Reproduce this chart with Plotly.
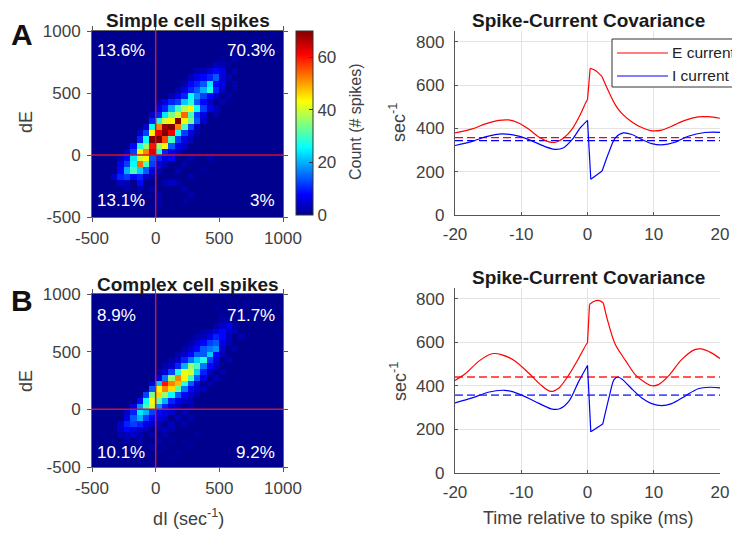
import plotly.graph_objects as go

W, H = 740, 534
OFF = 8  # page body margin of the browser
def px(x): return (x - OFF) / W
def py(y): return 1 - (y - OFF) / H

FONT = "Liberation Sans, Arial, sans-serif"
TXT = "#404040"

# ---------------- data ----------------
DI_CENTERS = [-475 + 50 * i for i in range(30)]          # bin centres (dI)
DE_CENTERS = [975 - 50 * i for i in range(30)]           # bin centres (dE), top row first

HEAT_TICKS = [-500, 0, 500, 1000]
HEAT_TICK_LABELS = ["-500", "0", "500", "1000"]
TIME_TICKS = [-20, -10, 0, 10, 20]
TIME_TICK_LABELS = ["-20", "-10", "0", "10", "20"]
COV_TICKS = [0, 200, 400, 600, 800]
CBAR_TICKS = [0, 20, 40, 60]

COUNTS_SIMPLE = [
    [0,0,0,0,0,0,0,0,0,0, 0,0,0,0,0,0,0,0,0,0, 0,0,0,0,0,0,0,0,1,0],
    [0,0,0,0,0,0,0,0,0,0, 0,0,0,0,0,0,0,0,0,0, 0,0,0,0,0,1,0,0,0,0],
    [0,0,0,0,0,0,0,0,0,0, 0,0,0,0,0,0,0,0,0,0, 0,0,0,0,1,0,0,0,0,0],
    [0,0,0,0,0,0,0,0,0,0, 0,0,0,0,0,0,0,0,0,0, 0,0,1,0,0,0,0,0,0,0],
    [0,0,0,0,0,0,0,0,0,0, 0,0,0,0,0,0,0,0,0,0, 1,0,2,0,0,0,0,0,0,0],
    [0,0,0,0,0,0,0,0,0,0, 0,0,0,0,0,0,0,0,0,3, 2,1,0,0,0,0,0,0,0,0],
    [0,0,0,0,0,0,0,0,0,0, 0,0,0,0,0,0,2,3,5,8, 6,0,2,0,0,0,0,0,0,0],
    [0,0,0,0,0,0,0,0,0,0, 0,0,0,0,0,3,6,8,10,14, 5,2,0,0,0,0,0,0,0,0],
    [0,0,0,0,0,0,0,0,0,0, 0,0,0,0,2,8,10,14,24,8, 6,0,2,0,0,0,0,0,0,0],
    [0,0,0,0,0,0,0,0,0,0, 0,0,0,2,6,10,14,20,28,10, 4,0,1,0,0,0,0,0,0,0],
    [0,0,0,0,0,0,0,0,0,0, 0,0,3,6,10,26,18,12,8,4, 0,2,0,0,0,0,0,0,0,0],
    [0,0,0,0,0,0,0,0,0,0, 2,6,10,12,22,28,14,8,4,0, 2,0,0,0,0,0,0,0,0,0],
    [0,0,0,0,0,0,0,0,0,0, 6,10,20,30,38,44,26,12,6,3, 0,0,0,0,0,0,0,0,0,0],
    [0,0,0,0,0,0,0,0,0,4, 10,24,34,40,54,30,12,6,0,2, 0,0,0,0,0,0,0,0,0,0],
    [0,0,0,0,0,0,0,0,0,10, 28,40,44,70,44,34,14,4,0,0, 0,0,0,0,0,0,0,0,0,0],
    [0,0,0,0,0,0,0,0,4,26, 52,68,70,52,30,12,4,0,0,0, 0,0,0,0,0,0,0,0,0,0],
    [0,0,0,0,0,0,0,4,12,44, 62,70,62,26,12,6,2,0,0,0, 0,0,0,0,0,0,0,0,0,0],
    [0,0,0,0,0,0,0,10,26,70, 70,56,30,12,6,3,0,0,0,0, 0,0,0,0,0,0,0,0,0,0],
    [0,0,0,0,0,0,8,28,36,60, 36,44,14,6,4,0,0,0,0,0, 0,0,0,0,0,0,0,0,0,0],
    [0,0,0,0,0,4,12,44,52,64, 28,10,6,4,0,0,0,0,0,0, 0,0,0,0,0,0,0,0,0,0],
    [0,0,0,0,3,8,24,40,44,14, 10,6,8,0,0,2,0,0,2,0, 0,0,0,0,0,0,0,0,0,0],
    [0,0,0,0,6,12,26,54,30,12, 6,3,0,0,2,0,0,0,0,0, 0,0,0,0,0,0,0,0,0,0],
    [0,0,0,0,8,20,30,22,14,6, 3,0,0,2,0,0,0,1,0,0, 0,0,0,0,0,0,0,0,0,0],
    [0,0,0,4,10,12,8,10,4,2, 0,0,0,0,0,2,0,0,0,0, 0,0,0,0,0,0,0,0,0,0],
    [0,0,0,0,4,3,0,8,0,0, 0,2,4,2,0,0,0,0,0,0, 0,0,0,0,0,0,0,0,0,0],
    [0,0,0,0,0,2,0,2,0,2, 0,0,0,0,2,0,0,0,0,0, 0,0,0,0,0,0,0,0,0,0],
    [0,0,0,0,0,0,1,0,0,0, 2,0,0,0,0,2,0,0,0,0, 0,0,0,0,0,0,0,0,0,0],
    [0,0,0,0,0,0,0,0,0,0, 2,0,0,0,1,0,0,0,0,0, 0,0,0,0,0,0,0,0,0,0],
    [0,0,0,0,0,0,0,0,0,0, 1,0,0,0,0,0,0,0,0,0, 0,0,0,0,0,0,0,0,0,0],
    [0,0,0,0,0,0,0,0,0,0, 0,0,0,0,0,0,0,0,0,0, 0,0,0,0,0,0,0,0,0,0],
]

COUNTS_COMPLEX = [
    [0,0,0,0,0,0,0,0,0,0, 0,0,0,0,0,0,0,0,0,0, 0,1,0,0,0,0,0,0,0,0],
    [0,0,0,0,0,0,0,0,0,0, 0,0,0,0,0,0,0,0,0,0, 0,0,0,0,1,0,0,0,0,0],
    [0,0,0,0,0,0,0,0,0,0, 0,0,0,0,0,0,0,0,0,1, 0,0,0,1,0,0,0,0,0,0],
    [0,0,0,0,0,0,0,0,0,0, 0,0,0,0,0,0,0,0,0,0, 1,0,1,0,0,0,0,0,0,0],
    [0,0,0,0,0,0,0,0,0,0, 0,0,0,0,0,0,0,0,0,0, 2,2,0,1,0,0,0,0,0,0],
    [0,0,0,0,0,0,0,0,0,0, 0,0,0,0,0,0,0,0,0,2, 4,6,2,0,0,0,0,0,0,0],
    [0,0,0,0,0,0,0,0,0,0, 0,0,0,0,0,0,0,2,3,5, 8,4,3,0,0,0,0,0,0,0],
    [0,0,0,0,0,0,0,0,0,0, 0,0,0,0,0,0,2,3,6,10, 8,3,0,2,0,0,0,0,0,0],
    [0,0,0,0,0,0,0,0,0,0, 0,0,0,0,0,2,4,8,12,14, 6,3,0,0,0,0,0,0,0,0],
    [0,0,0,0,0,0,0,0,0,0, 0,0,0,0,2,4,8,14,16,18, 4,0,2,0,0,0,0,0,0,0],
    [0,0,0,0,0,0,0,0,0,0, 0,0,0,2,4,8,14,14,22,8, 3,0,0,0,0,0,0,0,0,0],
    [0,0,0,0,0,0,0,0,0,0, 0,0,2,4,10,16,22,28,12,6, 0,2,0,0,0,0,0,0,0,0],
    [0,0,0,0,0,0,0,0,0,0, 0,2,4,10,20,36,30,16,8,4, 0,0,0,0,0,0,0,0,0,0],
    [0,0,0,0,0,0,0,0,0,0, 2,5,12,28,42,40,22,10,4,0, 2,0,0,0,0,0,0,0,0,0],
    [0,0,0,0,0,0,0,0,0,0, 6,16,36,52,44,30,14,6,0,3, 0,0,0,0,0,0,0,0,0,0],
    [0,0,0,0,0,0,0,0,0,6, 22,60,52,48,28,14,6,0,3,0, 0,0,0,0,0,0,0,0,0,0],
    [0,0,0,0,0,0,0,0,0,14, 44,52,46,32,16,8,4,3,0,0, 0,0,0,0,0,0,0,0,0,0],
    [0,0,0,0,0,0,0,0,12,34, 46,36,26,14,8,4,2,0,0,0, 0,0,0,0,0,0,0,0,0,0],
    [0,0,0,0,0,0,0,8,26,44, 32,20,10,6,4,3,0,0,0,0, 0,0,0,0,0,0,0,0,0,0],
    [0,0,0,0,0,0,6,18,30,40, 18,10,6,4,0,3,0,0,0,0, 0,0,0,0,0,0,0,0,0,0],
    [0,0,0,0,0,4,10,24,20,12, 8,6,4,0,3,0,0,0,0,0, 0,0,0,0,0,0,0,0,0,0],
    [0,0,0,0,0,6,14,20,12,8, 6,4,0,3,0,2,0,0,0,0, 0,0,0,0,0,0,0,0,0,0],
    [0,0,0,0,4,10,12,10,6,4, 3,0,3,0,2,0,0,0,0,0, 0,0,0,0,0,0,0,0,0,0],
    [0,0,0,0,4,8,6,4,3,0, 2,3,2,0,0,0,0,0,0,0, 0,0,0,0,0,0,0,0,0,0],
    [0,0,0,0,2,3,4,2,0,2, 0,2,0,0,0,0,1,0,0,0, 0,0,0,0,0,0,0,0,0,0],
    [0,0,0,0,0,2,0,2,0,0, 2,0,1,0,1,0,0,0,0,0, 0,0,0,0,0,0,0,0,0,0],
    [0,0,0,0,0,0,1,0,0,2, 0,1,0,0,0,1,0,0,0,0, 0,0,0,0,0,0,0,0,0,0],
    [0,0,0,0,0,0,0,0,1,0, 1,0,0,1,0,0,0,0,0,0, 0,0,0,0,0,0,0,0,0,0],
    [0,0,0,0,0,0,0,1,0,0, 0,0,1,0,0,0,0,0,0,0, 0,0,0,0,0,0,0,0,0,0],
    [0,0,0,0,0,0,0,0,0,1, 0,0,0,0,0,0,0,0,0,0, 0,0,0,0,0,0,0,0,0,0],
]

QUAD_SIMPLE = ["13.6%", "70.3%", "13.1%", "3%"]     # UL, UR, LL, LR
QUAD_COMPLEX = ["8.9%", "71.7%", "10.1%", "9.2%"]

# Spike-current covariance curves (time in ms, value in sec^-1)
T_E_A = [-20, -17.4, -15.4, -13.4, -11.9, -10.4, -8.8, -7.3, -5.8, -4.8, -3.6, -2.3, -1.1, -0.1, 0,
         0.4, 1.2, 2.2, 3.2, 4.2, 5.2, 6.7, 8.2, 9.7, 11.2, 12.7, 14.7, 16.7, 18.3, 20]
E_A = [379, 398, 421, 437, 439, 425, 395, 359, 338, 336, 356, 398, 463, 529, 532,
       678, 667, 639, 570, 509, 468, 430, 404, 389, 392, 410, 437, 453, 454, 447]
T_I_A = [-20, -17.4, -15.4, -12.9, -10.4, -8.3, -6.3, -4.8, -3.6, -2.3, -1.1, 0,
         0.5, 2.2, 3.2, 4.2, 5.4, 6.7, 8.2, 9.7, 11.2, 13.2, 15.2, 17.7, 20]
I_A = [321, 340, 361, 375, 364, 341, 315, 303, 311, 349, 402, 437,
       165, 203, 288, 356, 379, 372, 349, 330, 324, 336, 364, 381, 382]
T_E_B = [-20, -18.4, -16.4, -14.4, -12.9, -10.9, -8.8, -7.1, -5.6, -4.3, -2.8, -1.3, -0.1, 0,
         0.3, 1.0, 1.8, 2.4, 3.0, 4.2, 5.8, 7.2, 8.8, 9.7, 10.7, 12.2, 14.2, 16.2, 17.2, 18.7, 20]
E_B = [425, 457, 514, 548, 543, 514, 457, 406, 375, 391, 452, 529, 595, 598,
       774, 789, 792, 781, 705, 590, 514, 452, 414, 401, 406, 445, 521, 567, 570, 552, 526]
T_I_B = [-20, -17.4, -15, -12.5, -10.5, -8, -5.5, -4.2, -2.8, -1.3, 0,
         0.5, 2.3, 3.3, 4.0, 4.6, 5.3, 6.8, 8.2, 9.7, 11.2, 12.7, 14.7, 16.7, 18.5, 20]
I_B = [322, 345, 371, 380, 365, 330, 295, 295, 330, 422, 494,
       189, 225, 353, 429, 441, 429, 383, 345, 319, 310, 319, 353, 387, 394, 391]

# indices where the curve has a corner (segments between them are drawn smooth)
CORNERS_E_A = [14, 15, 17]
CORNERS_I_A = [11, 12, 13]
CORNERS_E_B = [13, 14, 17]
CORNERS_I_B = [10, 11, 12]

MEAN_E_A, MEAN_I_A = 357, 344
MEAN_E_B, MEAN_I_B = 441, 358

TIME_RANGE = [-20, 20]

# ---------------- figure ----------------
JET = [[0.0, "rgb(0,0,143)"], [7/63, "rgb(0,0,255)"], [23/63, "rgb(0,255,255)"],
       [39/63, "rgb(255,255,0)"], [55/63, "rgb(255,0,0)"], [1.0, "rgb(128,0,0)"]]
ZMAX = 70

fig = go.Figure()

fig.add_trace(go.Heatmap(
    x=DI_CENTERS, y=DE_CENTERS, z=COUNTS_SIMPLE, xaxis="x", yaxis="y",
    colorscale=JET, zmin=0, zmax=ZMAX, showscale=True,
    colorbar=dict(x=px(296), xanchor="left", xpad=0, y=py(31), yanchor="top", ypad=0,
                  len=(215 - 31) / H, lenmode="fraction", thickness=17,
                  outlinewidth=1, outlinecolor="#333",
                  tickvals=CBAR_TICKS, ticks="inside", ticklen=4, tickcolor="#333",
                  tickfont=dict(size=17, color=TXT, family=FONT)),
    hoverinfo="skip"))
fig.add_trace(go.Heatmap(
    x=DI_CENTERS, y=DE_CENTERS, z=COUNTS_COMPLEX, xaxis="x3", yaxis="y3",
    colorscale=JET, zmin=0, zmax=ZMAX, showscale=False, hoverinfo="skip"))


def add_curve(t, v, corners, color, xa, ya):
    bounds = [0] + corners + [len(t) - 1]
    for a, b in zip(bounds[:-1], bounds[1:]):
        fig.add_trace(go.Scatter(
            x=t[a:b + 1], y=v[a:b + 1], xaxis=xa, yaxis=ya, mode="lines",
            line=dict(color=color, width=1.2, shape="spline", smoothing=0.8),
            showlegend=False, hoverinfo="skip"))


def add_mean(m, color, xa, ya, width=1.3):
    fig.add_trace(go.Scatter(
        x=TIME_RANGE, y=[m, m], xaxis=xa, yaxis=ya, mode="lines",
        line=dict(color=color, width=width, dash="8px,4px"),
        showlegend=False, hoverinfo="skip"))


add_mean(MEAN_E_A, "#ff0000", "x2", "y2")
add_mean(MEAN_I_A, "#0000ff", "x2", "y2")
add_curve(T_E_A, E_A, CORNERS_E_A, "#ff0000", "x2", "y2")
add_curve(T_I_A, I_A, CORNERS_I_A, "#0000ff", "x2", "y2")
add_mean(MEAN_E_B, "#ff2020", "x4", "y4")
add_mean(MEAN_I_B, "#5050ff", "x4", "y4", width=1.6)
add_curve(T_E_B, E_B, CORNERS_E_B, "#ff0000", "x4", "y4")
add_curve(T_I_B, I_B, CORNERS_I_B, "#0000ff", "x4", "y4")

tickfont = dict(size=17, color=TXT, family=FONT)

heat_x = dict(range=[-500, 1000], tickvals=HEAT_TICKS, ticktext=HEAT_TICK_LABELS,
              ticks="outside", ticklen=4,
              tickcolor="#555", showline=True, linecolor="#666", linewidth=1, mirror="ticks",
              showgrid=False, zeroline=False, tickfont=tickfont, ticklabelstandoff=2,
              automargin=False)
heat_y = dict(range=[-500, 1000], tickvals=HEAT_TICKS, ticktext=HEAT_TICK_LABELS,
              ticks="outside", ticklen=4,
              tickcolor="#555", showline=True, linecolor="#666", linewidth=1, mirror="ticks",
              showgrid=False, zeroline=False, tickfont=tickfont, ticklabelstandoff=3,
              automargin=False)
cov_x = dict(range=TIME_RANGE, tickvals=TIME_TICKS, ticktext=TIME_TICK_LABELS,
             ticks="inside", ticklen=3,
             tickcolor="#555", showline=True, linecolor="#555", linewidth=1.3,
             showgrid=True, gridcolor="#e3e3e3", gridwidth=1, zeroline=False, tickfont=tickfont,
             ticklabelstandoff=3, automargin=False)
cov_y = dict(range=[0, 850], tickvals=COV_TICKS, ticks="inside", ticklen=3,
             tickcolor="#555", showline=True, linecolor="#555", linewidth=1.3,
             showgrid=True, gridcolor="#e3e3e3", gridwidth=1, zeroline=False, tickfont=tickfont,
             ticklabelstandoff=6, automargin=False)

fig.update_layout(
    width=W, height=H, margin=dict(l=0, r=0, t=0, b=0, pad=0, autoexpand=False),
    paper_bgcolor="white", plot_bgcolor="white",
    font=dict(family=FONT, color=TXT),
    xaxis=dict(domain=[px(92), px(283)], anchor="y", **heat_x),
    yaxis=dict(domain=[py(217), py(31)], anchor="x", **heat_y),
    xaxis2=dict(domain=[px(455), px(720)], anchor="y2", **cov_x),
    yaxis2=dict(domain=[py(215), py(31)], anchor="x2", **cov_y),
    xaxis3=dict(domain=[px(92), px(283)], anchor="y3", **heat_x),
    yaxis3=dict(domain=[py(467), py(294)], anchor="x3", **heat_y),
    xaxis4=dict(domain=[px(455), px(720)], anchor="y4", **cov_x),
    yaxis4=dict(domain=[py(473), py(288)], anchor="x4", **cov_y),
    showlegend=False,
)

shapes = []
# red crosshairs at zero
for xa, ya in (("x", "y"), ("x3", "y3")):
    shapes.append(dict(type="line", xref=xa, yref=ya, x0=0, x1=0, y0=-500, y1=1000,
                       line=dict(color="rgb(205,20,45)", width=1.5)))
    shapes.append(dict(type="line", xref=xa, yref=ya, x0=-500, x1=1000, y0=0, y1=0,
                       line=dict(color="rgb(205,20,45)", width=1.5)))
# legend box (drawn manually, clipped at figure edge like the reference)
shapes.append(dict(type="rect", xref="paper", yref="paper", x0=px(612), x1=px(760),
                   y0=py(87), y1=py(39), line=dict(color="#333", width=1), fillcolor="white",
                   layer="above"))
shapes.append(dict(type="line", xref="paper", yref="paper", x0=px(617), x1=px(668),
                   y0=py(53), y1=py(53), line=dict(color="#ff0000", width=1.2), layer="above"))
shapes.append(dict(type="line", xref="paper", yref="paper", x0=px(617), x1=px(668),
                   y0=py(76), y1=py(76), line=dict(color="#0000ff", width=1.2), layer="above"))
fig.update_layout(shapes=shapes)

ann = []
def text(x, y, s, size, bold=False, color="#1a1a1a", xanchor="center", angle=0, xref="paper", yref="paper"):
    ann.append(dict(x=x, y=y, xref=xref, yref=yref, text=f"<b>{s}</b>" if bold else s,
                    showarrow=False, xanchor=xanchor, yanchor="middle", textangle=angle,
                    font=dict(size=size, color=color, family=FONT)))

# panel letters
text(px(22), py(34), "A", 30, bold=True, color="#111")
text(px(22), py(300), "B", 30, bold=True, color="#111")
# titles
text(px(188), py(20), "Simple cell spikes", 19, bold=True)
text(px(588), py(20), "Spike-Current Covariance", 19, bold=True)
text(px(188), py(284), "Complex cell spikes", 19, bold=True)
text(px(588), py(277), "Spike-Current Covariance", 19, bold=True)
# axis titles
text(px(26), py(122), "dE", 18, color=TXT, angle=-90)
text(px(26), py(381), "dE", 18, color=TXT, angle=-90)
text(px(398), py(122), "sec<sup>-1</sup>", 18, color=TXT, angle=-90)
text(px(398), py(381), "sec<sup>-1</sup>", 18, color=TXT, angle=-90)
text(px(188), py(517), "dI (sec<sup>-1</sup>)", 18, color=TXT)
text(px(588), py(518), "Time relative to spike (ms)", 18, color=TXT)
text(px(356), py(122), "Count (# spikes)", 16, color=TXT, angle=-90)
# legend labels
ann.append(dict(x=px(670), y=py(53), xref="paper", yref="paper", text="E current", showarrow=False,
                xanchor="left", yanchor="middle", font=dict(size=15.5, color="#222", family=FONT)))
ann.append(dict(x=px(670), y=py(76), xref="paper", yref="paper", text="I current", showarrow=False,
                xanchor="left", yanchor="middle", font=dict(size=15.5, color="#222", family=FONT)))
# quadrant percentages
for (xa, ya, labels, ytop, ybot) in (("x", "y", QUAD_SIMPLE, 840, -370), ("x3", "y3", QUAD_COMPLEX, 810, -370)):
    for lab, xv, yv, anc in zip(labels, [-478, 955, -478, 955], [ytop, ytop, ybot, ybot],
                                ["left", "right", "left", "right"]):
        text(xv, yv, lab, 17, color="white", xanchor=anc, xref=xa, yref=ya)

fig.update_layout(annotations=ann)
fig.write_html("out.html")
